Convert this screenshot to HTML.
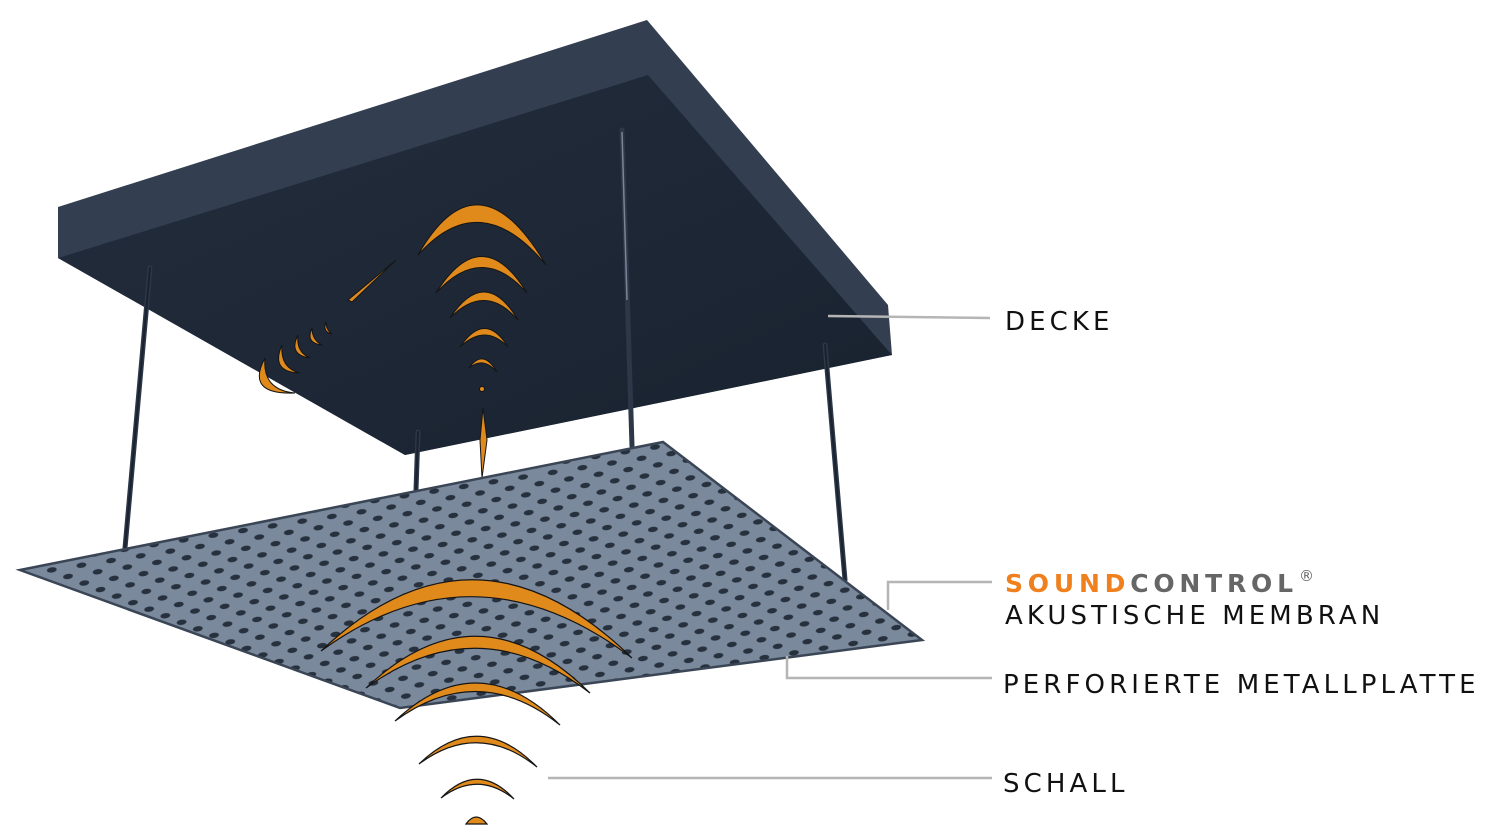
<!DOCTYPE html>
<html><head><meta charset="utf-8"><style>
html,body{margin:0;padding:0;background:#fff;}
svg{display:block}
text{font-family:"DejaVu Sans","Liberation Sans",sans-serif;}
</style></head><body>
<svg width="1500" height="832" viewBox="0 0 1500 832" xmlns="http://www.w3.org/2000/svg">
<defs>
<linearGradient id="under" x1="0" y1="0" x2="1" y2="1">
<stop offset="0" stop-color="#232d3d"/><stop offset="1" stop-color="#19222f"/>
</linearGradient>
<pattern id="holes" width="30" height="18" patternUnits="userSpaceOnUse" patternTransform="rotate(-9)">
<rect width="30" height="18" fill="#7b899d"/>
<ellipse cx="7" cy="4" rx="5" ry="2.6" fill="#27313e"/>
<ellipse cx="22" cy="13" rx="5" ry="2.6" fill="#27313e"/>
</pattern>
</defs>

<polygon points="58,207 647,20 888,305 892,355 405,455 58,258" fill="#333f50"/>
<polygon points="58,258 648,75 892,355 405,455" fill="url(#under)"/>

<g stroke="#2c3747" stroke-width="5" stroke-linecap="round">
<line x1="150" y1="268" x2="125" y2="548"/>
<line x1="622" y1="130" x2="632" y2="446"/>
<line x1="825" y1="345" x2="845" y2="580"/>
<line x1="418" y1="432" x2="416" y2="490"/>
</g>
<g stroke="#1a2230" stroke-width="2" stroke-linecap="round">
<line x1="150" y1="268" x2="125" y2="548"/>
<line x1="825" y1="345" x2="845" y2="580"/>
<line x1="418" y1="432" x2="416" y2="490"/>
</g>
<line x1="622" y1="132" x2="627" y2="300" stroke="#7a8595" stroke-width="1.5"/>

<g fill="#e08a1c" stroke="#151515" stroke-width="1">
<path d="M418,255 Q478,150 546,265 Q480,185 418,255Z"/>
<path d="M436,293 Q482,220 527,293 Q482,242 436,293Z"/>
<path d="M450,318 Q485,265 518,320 Q485,282 450,318Z"/>
<path d="M460,347 Q485,310 508,347 Q485,323 460,347Z"/>
<path d="M469,368 Q483,348 497,372 Q483,356 469,368Z"/>
<circle cx="482" cy="389" r="2.5"/>
<path d="M483,408 L487,440 L482,478 L480,440Z"/>
<path d="M265,358 Q245,395 295,393 Q262,390 265,358Z"/>
<path d="M282,345 Q270,372 300,373 Q280,368 282,345Z"/>
<path d="M298,335 Q288,355 310,358 Q296,352 298,335Z"/>
<path d="M312,328 Q305,343 322,345 Q312,340 312,328Z"/>
<path d="M326,322 Q322,332 332,334 Q326,330 326,322Z"/>
<path d="M348,300 L396,260 L352,302Z"/>
</g>

<polygon points="20,570 663,442 922,640 400,708" fill="url(#holes)" stroke="#3a4555" stroke-width="2.5"/>

<g fill="#e08a1c" stroke="#151515" stroke-width="1.2">
<path d="M321,651 Q475,505 632,658 Q475,539 321,651Z"/>
<path d="M366,688 Q478,582 590,693 Q478,606 366,688Z"/>
<path d="M395,721 Q478,643 560,725 Q478,660 395,721Z"/>
<path d="M419,764 Q478,707 537,767 Q478,720 419,764Z"/>
<path d="M441,798 Q478,760 514,799 Q478,770 441,798Z"/>
<path d="M466,824 Q476,810 487,824Z"/>
</g>

<g stroke="#b5b5b5" stroke-width="2.5" fill="none">
<polyline points="828,316 990,318"/>
<polyline points="888,610 888,582 992,582"/>
<polyline points="787,656 787,678 992,678"/>
<polyline points="548,778 992,778"/>
</g>

<g font-size="26" fill="#111" letter-spacing="4.1">
<text x="1005" y="330">DECKE</text>
<text x="1005" y="624">AKUSTISCHE MEMBRAN</text>
<text x="1003" y="693">PERFORIERTE METALLPLATTE</text>
<text x="1003" y="792">SCHALL</text>
</g>
<text x="1005" y="592" font-size="25" font-weight="bold" letter-spacing="4.8"><tspan fill="#f0801e">SOUND</tspan><tspan fill="#666">CONTROL</tspan></text>
<text x="1299" y="581" font-size="15" fill="#666">®</text>
</svg>
</body></html>
